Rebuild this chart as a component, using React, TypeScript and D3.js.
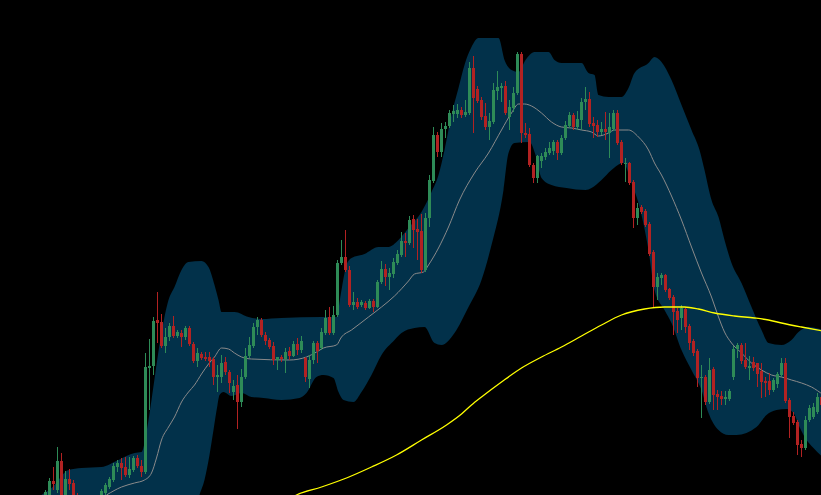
import React from 'react';
import * as d3 from 'd3';

const W = 821;
const H = 495;

// Bars are indexed 0..205; the first bars that show on screen start at index 11.
const FIRST_BAR = 11;
const LAST_BAR = 205;

// Candles: [open, high, low, close] in price points
const ohlc: [number, number, number, number][] = [
  [2, 10, 0, 8], [2, 22, 0, 19], [19, 33, 10, 16], [10, 53, 7, 39], [39, 47, 0, 3],
  [3, 29, 0, 21], [21, 31, 10, 16], [17, 20, -2, 2], [3, 7, -12, -8], [-10, 0, -14, -3],
  [-3, 0, -22, -18], [-18, -5, -22, -8], [-8, 4, -12, 2], [-3, 4, -6, 3], [2, 11, 0, 9],
  [7, 17, 4, 15], [13, 23, 11, 21], [20, 37, 18, 34], [33, 40, 28, 37], [37, 42, 20, 32],
  [33, 43, 23, 25], [25, 43, 22, 31], [30, 44, 28, 42], [42, 45, 32, 34], [34, 40, 23, 28],
  [28, 147, 26, 133], [132, 161, 90, 134], [134, 183, 125, 179], [180, 208, 157, 177], [178, 186, 152, 154],
  [154, 172, 147, 163], [163, 177, 159, 174], [174, 184, 162, 164], [164, 170, 162, 168], [167, 170, 153, 163],
  [163, 174, 160, 172], [172, 174, 154, 156], [156, 158, 137, 139], [139, 152, 133, 147], [146, 148, 140, 142],
  [143, 148, 139, 141], [143, 148, 133, 139], [141, 143, 115, 123], [123, 135, 108, 125], [123, 145, 117, 137],
  [138, 143, 125, 128], [128, 130, 107, 117], [108, 120, 100, 114], [115, 125, 71, 98], [98, 131, 93, 123],
  [123, 152, 121, 144], [144, 163, 142, 155], [154, 177, 152, 173], [173, 183, 165, 180], [180, 182, 163, 165],
  [165, 168, 155, 159], [160, 162, 151, 153], [154, 158, 135, 140], [140, 143, 130, 143], [143, 145, 138, 141],
  [141, 152, 127, 148], [149, 153, 140, 144], [144, 159, 143, 156], [156, 162, 145, 150], [150, 164, 147, 159],
  [142, 143, 118, 123], [121, 145, 112, 140], [140, 159, 136, 157], [157, 159, 137, 149], [152, 172, 150, 168],
  [167, 190, 165, 182], [183, 193, 165, 167], [167, 194, 165, 185], [185, 240, 183, 237], [237, 260, 235, 243],
  [243, 270, 228, 230], [230, 234, 193, 195], [195, 208, 190, 198], [198, 202, 191, 193], [195, 200, 193, 198],
  [197, 199, 190, 192], [192, 201, 191, 199], [199, 201, 188, 193], [193, 220, 192, 218], [218, 239, 216, 231],
  [231, 236, 214, 223], [223, 232, 210, 227], [226, 242, 222, 238], [237, 250, 235, 246], [245, 268, 243, 259],
  [259, 267, 243, 257], [257, 284, 255, 280], [281, 285, 252, 270], [271, 281, 240, 268], [269, 286, 227, 230],
  [230, 287, 228, 282], [282, 325, 273, 320], [319, 373, 317, 365], [365, 368, 343, 348], [348, 377, 343, 371],
  [371, 378, 362, 374], [374, 390, 372, 387], [386, 395, 378, 389], [386, 396, 382, 390], [390, 393, 382, 385],
  [385, 400, 383, 388], [387, 438, 385, 432], [432, 444, 367, 402], [411, 414, 397, 399], [400, 403, 380, 383],
  [384, 397, 370, 373], [373, 387, 360, 379], [378, 417, 376, 410], [409, 429, 400, 413], [412, 417, 398, 414],
  [414, 419, 385, 387], [383, 400, 370, 393], [392, 413, 388, 407], [407, 448, 405, 446], [446, 448, 357, 367],
  [367, 377, 362, 365], [366, 372, 333, 335], [335, 337, 317, 322], [322, 345, 317, 344], [339, 347, 332, 344],
  [343, 352, 340, 348], [347, 358, 345, 352], [349, 360, 345, 358], [358, 360, 340, 347], [347, 365, 345, 362],
  [362, 379, 360, 375], [374, 388, 372, 385], [385, 387, 370, 373], [373, 389, 370, 381], [380, 402, 370, 398],
  [398, 413, 390, 401], [401, 408, 373, 376], [377, 383, 362, 374], [375, 380, 363, 368], [368, 378, 365, 371],
  [371, 388, 360, 368], [367, 387, 342, 373], [371, 390, 369, 387], [387, 390, 355, 357], [358, 360, 335, 337],
  [336, 342, 318, 337], [337, 338, 315, 317], [318, 320, 272, 282], [282, 297, 275, 292], [293, 295, 286, 288],
  [289, 291, 273, 275], [276, 278, 244, 246], [248, 250, 193, 213], [213, 227, 200, 223], [222, 227, 215, 225],
  [225, 226, 208, 210], [211, 212, 200, 202], [203, 205, 165, 188], [189, 192, 167, 180], [182, 195, 170, 192],
  [191, 193, 167, 173], [174, 176, 150, 157], [159, 161, 144, 147], [149, 151, 113, 122], [122, 135, 82, 123],
  [123, 125, 95, 98], [98, 142, 96, 130], [131, 133, 90, 105], [106, 110, 90, 103], [104, 109, 95, 101],
  [101, 109, 95, 103], [101, 111, 99, 109], [123, 154, 120, 151], [151, 157, 142, 155], [155, 157, 136, 139],
  [140, 157, 131, 133], [132, 144, 120, 134], [138, 143, 129, 132], [137, 137, 113, 126], [129, 137, 102, 118],
  [119, 123, 103, 117], [119, 127, 105, 110], [110, 122, 108, 120], [116, 128, 112, 126], [125, 142, 123, 137],
  [137, 142, 97, 99], [100, 102, 62, 83], [84, 88, 75, 77], [78, 80, 45, 55], [56, 60, 43, 52],
  [52, 84, 50, 80], [80, 95, 78, 92], [83, 97, 81, 93], [88, 107, 86, 103], [103, 105, 92, 95],
];

// Bollinger upper band: [bar index, price]
const upperBand: [number, number][] = [
  [0, -20], [10, 5], [12.5, 12], [16.75, 30], [20, 32], [25, 33], [29.25, 40], [33.25, 47], [35, 48],
  [36.75, 80], [37.5, 100], [40, 167], [41.75, 200], [43.25, 213], [45, 230], [46.75, 238], [50, 239],
  [51.75, 233], [53.25, 215], [54.25, 200], [55, 188], [58.25, 188], [61.75, 183], [65, 181], [70, 182],
  [80, 183], [83.75, 183], [85, 210], [86.25, 235], [87.5, 242], [90.75, 246], [94.25, 253], [96.75, 253],
  [99.25, 260], [101.75, 272], [105, 288], [107.5, 308], [109.25, 325], [110.75, 350], [112.5, 385],
  [114.25, 412], [115.75, 435], [117.5, 453], [119.25, 462], [124.25, 462], [125.75, 440], [127.5, 430],
  [129.25, 428], [131, 440], [133.25, 448], [136.75, 448], [138.25, 440], [140, 437], [145, 437],
  [146.75, 427], [148.25, 425], [149.25, 405], [151.75, 403], [155, 403], [156.75, 412], [158.25, 427],
  [161.75, 437], [163.25, 443], [165, 438], [167.5, 420], [170, 395], [172.5, 370], [174.5, 350],
  [175.75, 330], [177.5, 300], [179.25, 283], [180.75, 260], [182.5, 237], [185, 217], [187.5, 193],
  [190, 170], [191.75, 157], [195, 155], [197.5, 160], [199.25, 168], [201.75, 173], [205.5, 170],
];

// Bollinger lower band: [bar index, price]
const lowerBand: [number, number][] = [
  [0, -40], [30, -45], [40, -80], [45, -70], [49.5, 5], [50.75, 20], [52, 45], [53, 70], [54, 95],
  [54.5, 105], [55.5, 108], [57.5, 104], [60, 107], [62.5, 103], [65.5, 102], [70, 100], [74.5, 102],
  [76.25, 107], [78.75, 123], [80.5, 125], [83, 122], [84.25, 108], [85.5, 100], [88, 98], [90, 108],
  [92.5, 125], [95, 145], [98.25, 160], [100, 167], [103.25, 172], [105.75, 173], [108.25, 157], [110, 155],
  [113.25, 167], [116.75, 193], [120, 220], [122.5, 255], [125.5, 310], [126.75, 347], [128.25, 357],
  [132, 358], [133.5, 345], [135, 322], [137.5, 315], [141.25, 312], [146, 310], [147.5, 312], [150, 320],
  [152.5, 330], [155.5, 337], [157.5, 317], [159.25, 297], [161.75, 250], [163.25, 210], [165.75, 190],
  [167.5, 177], [170, 150], [172.5, 130], [175, 110], [176.75, 87], [179.25, 70], [181.75, 65],
  [183.75, 65], [188.75, 73], [191.25, 85], [193.75, 90], [196.25, 91], [198, 87], [199.5, 73],
  [201.25, 60], [203, 52], [205.5, 42],
];

// Bollinger middle line (moving average): [bar index, price]
const middleBand: [number, number][] = [
  [26.25, 5], [30, 13], [33.25, 17], [35.75, 20], [37.5, 27], [38.75, 42], [40, 60], [41.75, 73],
  [43.25, 83], [45, 98], [46.75, 108], [48.25, 115], [50, 126], [51.75, 136], [53.25, 143], [55, 152],
  [56.75, 151], [58.25, 147], [60, 143], [62.5, 141], [72, 140], [76.25, 143], [78.75, 148], [80.5, 152],
  [83.75, 155], [85, 163], [87.5, 170], [91.75, 183], [95, 193], [98.25, 204], [101.75, 219], [103.25, 226],
  [105.5, 228], [106.75, 235], [109.25, 252], [111.75, 273], [114.5, 300], [118.25, 327], [121.75, 347],
  [125, 370], [127.5, 387], [129.25, 396], [130.75, 396], [132.5, 394], [135, 387], [137.5, 378], [140, 373],
  [142.5, 372], [145, 370], [147.5, 368], [149.25, 364], [151.75, 367], [153.25, 370], [156.75, 370],
  [159.25, 363], [161.75, 350], [163.25, 337], [165, 325], [167.5, 304], [170, 280], [172.5, 253], [175, 227],
  [177.5, 203], [179.25, 183], [180.75, 168], [182.5, 157], [185, 147], [187.5, 137], [190, 130],
  [192.5, 125], [195, 123], [197.5, 120], [200, 117], [202.5, 113], [205.5, 105],
];

// Slow moving average (yellow): [bar index, price]
const slowMA: [number, number][] = [
  [70, -5], [73.75, 5], [80, 13], [86.25, 22], [92.5, 33], [98.75, 45], [105, 60], [111.25, 75], [115, 86],
  [117.5, 95], [120, 103], [125, 118], [130, 132], [135, 143], [140, 153], [145, 164], [150, 175],
  [155, 185], [160.75, 191], [165.75, 193], [170.75, 193], [174.25, 191], [178.25, 187], [183.25, 184],
  [188.25, 182], [191.75, 180], [195, 177], [200, 173], [205.5, 169],
];

const BAND_FILL = '#02314a';
const UP = '#2e8b57';
const DOWN = '#b22222';

export default function App() {
  const x = d3.scaleLinear().domain([0, LAST_BAR]).range([1.5, 821.5]);
  const y = d3.scaleLinear().domain([5, 500]).range([H, 0]);

  const areaBelow = d3
    .area<[number, number]>()
    .x((d) => x(d[0]))
    .y0(H + 200)
    .y1((d) => y(d[1]))
    .curve(d3.curveMonotoneX);

  const line = d3
    .line<[number, number]>()
    .x((d) => x(d[0]))
    .y((d) => y(d[1]))
    .curve(d3.curveMonotoneX);

  return (
    <svg
      width={W}
      height={H}
      style={{ position: 'absolute', left: 0, top: 0, display: 'block', background: '#000' }}
    >
      <rect x={0} y={0} width={W} height={H} fill="#000" />
      <path d={areaBelow(upperBand) || ''} fill={BAND_FILL} />
      <path d={areaBelow(lowerBand) || ''} fill="#000" />
      <path d={line(middleBand) || ''} fill="none" stroke="#8a8a8a" strokeWidth={1} />
      {ohlc.map(([o, h, l, c], k) => {
        const i = FIRST_BAR + k;
        const cx = x(i);
        const up = c >= o;
        const col = up ? UP : DOWN;
        const top = y(Math.max(o, c));
        const bot = y(Math.min(o, c));
        return (
          <g key={i}>
            <rect x={cx - 0.5} y={y(h)} width={1} height={Math.max(1, y(l) - y(h))} fill={col} />
            <rect x={cx - 1.5} y={top} width={3} height={Math.max(1, bot - top)} fill={col} />
          </g>
        );
      })}
      <path d={line(slowMA) || ''} fill="none" stroke="#ffff00" strokeWidth={1.3} />
    </svg>
  );
}
